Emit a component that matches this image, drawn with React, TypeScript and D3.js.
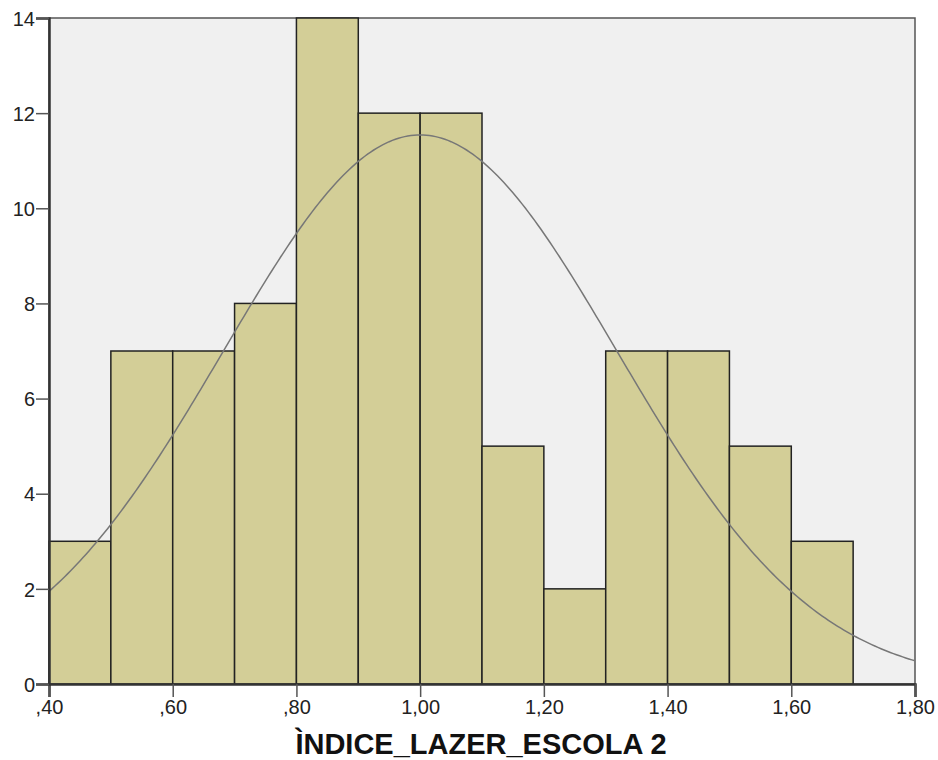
import React, { useRef, useEffect } from 'react';
import * as d3 from 'd3';

// histogram bins (lower edge) and counts
const binStarts = [0.4, 0.5, 0.6, 0.7, 0.8, 0.9, 1.0, 1.1, 1.2, 1.3, 1.4, 1.5, 1.6];
const binCounts = [3, 7, 7, 8, 14, 12, 12, 5, 2, 7, 7, 5, 3];
const binWidth = 0.1;
const xTicks = [0.4, 0.6, 0.8, 1.0, 1.2, 1.4, 1.6, 1.8];
const xTickLabels = [',40', ',60', ',80', '1,00', '1,20', '1,40', '1,60', '1,80'];
const yTicks = [0, 2, 4, 6, 8, 10, 12, 14];
// fitted normal curve parameters
const fitMean = 1.0;
const fitSd = 0.318;
const xTitle = 'ÌNDICE_LAZER_ESCOLA 2';

const W = 938;
const H = 760;

const App: React.FC = () => {
  const svgRef = useRef<SVGSVGElement>(null);

  useEffect(() => {
    if (!svgRef.current) return;
    const svg = d3.select(svgRef.current);
    svg.selectAll('*').remove();

    const margin = { top: 18, right: 23, bottom: 76, left: 49 };
    const cw = W - margin.left - margin.right;
    const ch = H - margin.top - margin.bottom;
    const font = '"Liberation Sans", Arial, sans-serif';

    const g = svg.append('g').attr('transform', `translate(${margin.left},${margin.top})`);

    const x = d3.scaleLinear().domain([0.4, 1.8]).range([0, cw]);
    const y = d3.scaleLinear().domain([0, 14]).range([ch, 0]);

    // plot background
    g.append('rect')
      .attr('width', cw).attr('height', ch)
      .attr('fill', '#f0f0f0')
      .attr('stroke', '#555').attr('stroke-width', 1.5);

    // bars
    const n = d3.sum(binCounts);
    g.selectAll('.bar')
      .data(binStarts.map((s, i) => ({ s, c: binCounts[i] })))
      .enter().append('rect')
      .attr('x', d => x(d.s))
      .attr('y', d => y(d.c))
      .attr('width', d => x(d.s + binWidth) - x(d.s))
      .attr('height', d => y(0) - y(d.c))
      .attr('fill', '#d3ce97')
      .attr('stroke', '#222')
      .attr('stroke-width', 1.5);

    // normal curve
    const scale = n * binWidth / (fitSd * Math.sqrt(2 * Math.PI));
    const pts = d3.range(0.4, 1.8001, 0.005).map(v => [v, scale * Math.exp(-((v - fitMean) ** 2) / (2 * fitSd * fitSd))]);
    g.append('path')
      .datum(pts)
      .attr('d', d3.line<number[]>().x(d => x(d[0])).y(d => y(d[1])))
      .attr('fill', 'none')
      .attr('stroke', '#777')
      .attr('stroke-width', 1.5);

    // axes
    const xa = g.append('g')
      .attr('transform', `translate(0,${ch})`)
      .call(d3.axisBottom(x).tickValues(xTicks).tickSize(13).tickPadding(3)
        .tickFormat((d, i) => xTickLabels[i]));
    const ya = g.append('g')
      .call(d3.axisLeft(y).tickValues(yTicks).tickSize(13).tickPadding(1)
        .tickFormat(d => String(d)));

    [xa, ya].forEach(a => {
      a.select('.domain').attr('stroke', '#333').attr('stroke-width', 2.5);
      a.selectAll('.tick line').attr('stroke', '#555').attr('stroke-width', 1.5);
      a.selectAll('text').attr('font-family', font).attr('font-size', '20px').attr('fill', '#222');
    });
    ya.selectAll('text').attr('dy', '0.36em');

    svg.append('text')
      .attr('x', 481)
      .attr('y', H - 6)
      .attr('text-anchor', 'middle')
      .attr('font-family', font)
      .attr('font-size', '29px')
      .attr('font-weight', 'bold')
      .attr('fill', '#111')
      .text(xTitle);
  }, []);

  return <svg ref={svgRef} width={W} height={H} style={{ display: 'block', position: 'absolute', left: 0, top: 0, background: '#fff' }} />;
};

export default App;
